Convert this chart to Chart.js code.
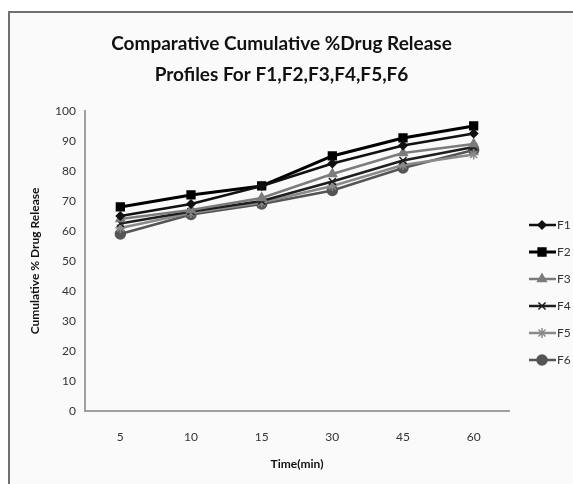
<!DOCTYPE html>
<html>
<head>
<meta charset="utf-8">
<script src="https://cdn.jsdelivr.net/npm/chart.js@4"></script>
<style>
  html, body { margin: 0; padding: 0; background: #fff; }
  #frame {
    position: absolute; left: 8px; top: 11px; width: 600px; height: 500px;
    border-left: 2px solid #707070; border-top: 2px solid #707070;
    background: #fafafa;
  }
  #wrap { position: absolute; left: 0; top: 0; width: 573px; height: 484px; }
</style>
</head>
<body>
<div id="frame"></div>
<div id="wrap"><canvas id="chart" width="573" height="484"></canvas></div>
<script>
// ── Data ──────────────────────────────────────
const timeLabels = ['5', '10', '15', '30', '45', '60'];
const f1 = [65, 69, 75, 82.5, 88.5, 92.5];
const f2 = [68, 72, 75, 85, 91, 95];
const f3 = [64, 67, 71, 79, 86, 89];
const f4 = [62.5, 66.5, 70, 76.5, 83.5, 88];
const f5 = [61, 66, 69.5, 75, 82, 85.5];
const f6 = [59, 65.5, 69, 73.5, 81, 87];
const seriesNames = ['F1', 'F2', 'F3', 'F4', 'F5', 'F6'];

const FONT = "Lato, sans-serif";

function series(label, data, color, style, radius, width) {
  return {
    label, data,
    borderColor: color,
    backgroundColor: color,
    pointBackgroundColor: color,
    pointBorderColor: color,
    pointStyle: style,
    pointRadius: radius,
    pointBorderWidth: 1.5,
    borderWidth: width,
    tension: 0
  };
}

const datasets = [
  series(seriesNames[0], f1, '#111111', 'rectRot', 4, 2.5),
  series(seriesNames[1], f2, '#000000', 'rect', 5.5, 3),
  series(seriesNames[2], f3, '#7c7c7c', 'triangle', 5, 2.5),
  series(seriesNames[3], f4, '#1e1e1e', 'crossRot', 5, 2.5),
  series(seriesNames[4], f5, '#8a8a8a', 'star', 5, 2.5),
  series(seriesNames[5], f6, '#555555', 'circle', 5, 2.5)
];

// ── Excel-style legend: line + marker ─────────
const sideLegend = {
  id: 'sideLegend',
  afterLayout(c) {
    // nudge the title to sit over the whole framed picture, as in Excel
    c.titleBlock.left += 15;
    c.titleBlock.right += 15;
  },
  afterDraw(c) {
    const ctx = c.ctx;
    c.data.datasets.forEach((ds, i) => {
      const y = 225 + i * 27;
      ctx.save();
      ctx.strokeStyle = ds.borderColor;
      ctx.fillStyle = ds.borderColor;
      ctx.lineWidth = ds.borderWidth;
      ctx.beginPath();
      ctx.moveTo(529, y);
      ctx.lineTo(556, y);
      ctx.stroke();
      ctx.lineWidth = 1.5;
      Chart.helpers.drawPoint(ctx, {
        pointStyle: ds.pointStyle, radius: ds.pointRadius, borderWidth: 1.5, rotation: 0
      }, 542, y);
      ctx.fillStyle = '#333';
      ctx.font = '12px ' + FONT;
      ctx.textAlign = 'left';
      ctx.textBaseline = 'middle';
      ctx.fillText(ds.label, 557, y);
      ctx.restore();
    });
  }
};

new Chart(document.getElementById('chart'), {
  type: 'line',
  data: { labels: timeLabels, datasets },
  options: {
    responsive: false,
    animation: false,
    layout: { padding: { left: 24, right: 64, top: 0, bottom: 9 } },
    plugins: {
      legend: { display: false },
      tooltip: { enabled: false },
      title: {
        display: true,
        text: ['Comparative Cumulative %Drug Release', 'Profiles For F1,F2,F3,F4,F5,F6'],
        color: '#111',
        font: { family: FONT, size: 19, weight: 'bold', lineHeight: 1.63 },
        padding: { top: 28, bottom: 21 }
      }
    },
    scales: {
      x: {
        offset: true,
        afterFit(s) { s.height = 64; },
        grid: { display: false, drawTicks: false },
        border: { color: '#a0a0a0', width: 2 },
        ticks: { color: '#333', padding: 19, font: { family: FONT, size: 12 } },
        title: {
          display: true, text: 'Time(min)', color: '#111',
          font: { family: FONT, size: 12, weight: 'bold' },
          padding: { top: 12, bottom: 4 }
        }
      },
      y: {
        min: 0, max: 100,
        afterFit(s) { s.width = 61; },
        grid: { display: false, drawOnChartArea: false, drawTicks: true, tickLength: 5, color: '#a0a0a0' },
        border: { color: '#a0a0a0', width: 2 },
        ticks: { stepSize: 10, color: '#333', padding: 4, font: { family: FONT, size: 12 } },
        title: {
          display: true, text: 'Cumulative % Drug Release', color: '#111',
          font: { family: FONT, size: 12, weight: 'bold' },
          padding: { top: 4, bottom: 4 }
        }
      }
    }
  },
  plugins: [sideLegend]
});
</script>
</body>
</html>
